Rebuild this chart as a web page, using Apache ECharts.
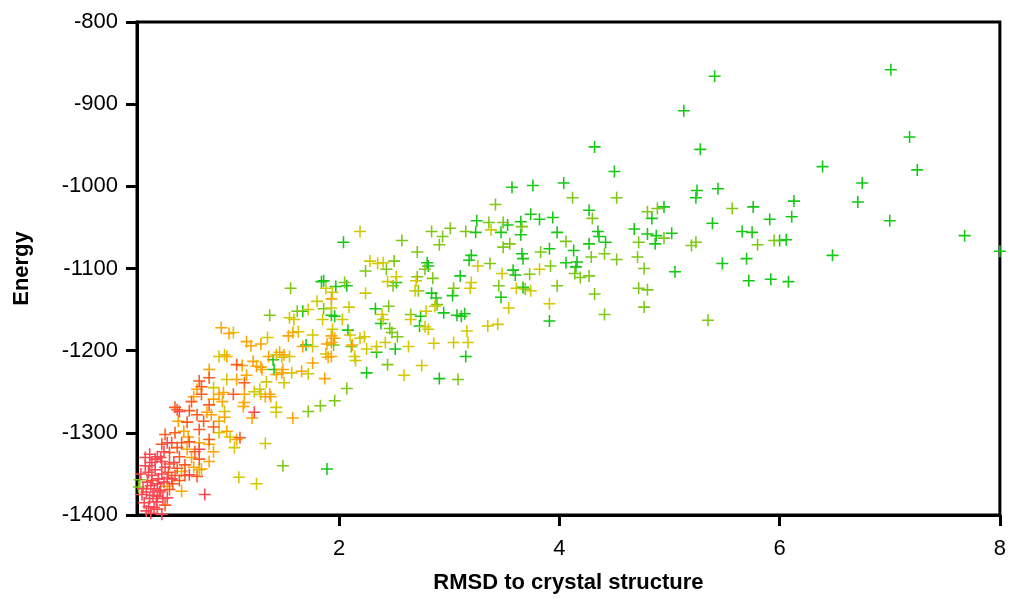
<!DOCTYPE html>
<html><head><meta charset="utf-8">
<script src="https://cdn.jsdelivr.net/npm/echarts@6/dist/echarts.min.js"></script>
<style>html,body{margin:0;padding:0;background:#fff}#c{width:1009px;height:599px}</style>
</head><body><div id="c"></div>
<script>
// [rmsd, energy] pairs grouped by marker colour class
const greenPts = [[7.01,-858],[5.41,-866],[5.13,-908],[7.18,-940],[6.39,-976],[7.25,-980],[6.75,-996],[5.76,-1025],[6.13,-1018],[6.71,-1019],[5.91,-1040],[6.11,-1037],[7.00,-1042],[7.68,-1060],[8.00,-1079],[5.66,-1055],[5.75,-1056],[6.00,-1066],[6.06,-1065],[5.70,-1088],[6.48,-1084],[5.72,-1115],[5.92,-1113],[6.08,-1116],
[4.32,-952],[5.28,-955],[4.50,-982],[3.76,-999],[4.04,-996],[5.25,-1005],[5.24,-1014],[5.44,-1003],[4.27,-1029],[3.74,-1034],[3.82,-1040],[3.94,-1038],[3.65,-1043],[3.65,-1059],[4.95,-1025],[4.84,-1039],[5.39,-1045],[3.98,-1056],[4.35,-1055],[4.36,-1061],[4.42,-1068],[4.68,-1052],[4.80,-1058],[4.88,-1060],[5.02,-1057],[4.87,-1070],[4.27,-1070],[4.13,-1078],[3.91,-1076],[3.66,-1082],[3.67,-1088],[4.06,-1093],[4.16,-1092],[4.15,-1098],[5.05,-1104],[5.48,-1094],[3.91,-1164],
[3.57,-1001],
[2.04,-1068],[3.24,-1056],[3.25,-1042],[3.47,-1056],[3.53,-1047],[3.20,-1084],[3.18,-1090],[2.80,-1093],[2.81,-1097],[2.52,-1117],[3.10,-1109],[3.03,-1133],[2.84,-1130],[2.88,-1136],[2.95,-1154],[3.07,-1157],[3.11,-1158],[3.14,-1155],[3.58,-1102],[3.60,-1108],[3.67,-1123],[3.47,-1135],[3.15,-1207],[2.91,-1234],[2.74,-1158],[2.73,-1170],[2.51,-1198],[2.34,-1202],[2.38,-1167],[2.33,-1149],[2.25,-1227],[2.08,-1175],[1.97,-1122],[2.07,-1121],[1.86,-1115],[1.84,-1116],[1.67,-1152],[1.93,-1157],[1.96,-1158],[1.70,-1193],
[1.89,-1344],[1.41,-1223],[1.40,-1211]];

const yellowGreenPts = [[5.80,-1071],[5.95,-1066],
[4.12,-1014],[4.52,-1014],[4.30,-1039],[3.66,-1049],[4.80,-1031],[4.89,-1027],[5.57,-1027],[4.06,-1067],[4.95,-1063],[4.72,-1068],[5.20,-1072],[5.24,-1068],[3.83,-1080],[3.92,-1097],[4.14,-1106],[4.19,-1111],[4.27,-1109],[4.29,-1086],[4.41,-1082],[4.52,-1089],[4.71,-1086],[4.77,-1100],[3.73,-1107],[3.98,-1121],[3.69,-1125],[4.32,-1131],[4.72,-1124],[4.80,-1126],[4.77,-1147],[4.41,-1156],[5.35,-1163],
[3.42,-1022],
[2.57,-1066],[2.84,-1055],[2.94,-1061],[3.01,-1051],[3.15,-1055],[3.36,-1044],[3.49,-1044],[2.71,-1080],[2.91,-1071],[3.49,-1074],[3.55,-1070],[3.37,-1094],[2.78,-1101],[2.50,-1091],[2.24,-1103],[2.43,-1101],[2.49,-1121],[2.85,-1112],[2.71,-1110],[2.72,-1127],[3.04,-1124],[2.89,-1144],[3.45,-1121],[3.08,-1235],[2.65,-1156],[2.44,-1217],[2.53,-1183],[2.48,-1178],[2.46,-1173],[2.45,-1146],[2.11,-1195],[2.05,-1117],[1.86,-1149],[1.95,-1193],[2.07,-1246],[1.96,-1261],[1.83,-1267],[1.72,-1274],
[1.49,-1340],[1.56,-1124],[1.37,-1157],[1.62,-1152],[0.19,-1357],[0.18,-1366]];

const yellowPts = [[3.82,-1101],[3.74,-1127],[3.91,-1143],
[2.19,-1055],[3.38,-1053],[3.26,-1097],[2.28,-1091],[2.35,-1094],[2.40,-1093],[2.52,-1110],[2.44,-1116],[2.70,-1115],[2.69,-1127],[3.20,-1117],[3.19,-1124],[2.87,-1146],[2.79,-1152],[3.48,-1106],[3.61,-1124],[3.54,-1148],[3.35,-1170],[3.44,-1168],[3.16,-1176],[3.17,-1190],[3.04,-1190],[2.86,-1191],[2.75,-1218],[2.59,-1230],[2.81,-1174],[2.65,-1162],[2.78,-1171],[2.63,-1195],[2.34,-1195],[2.25,-1198],[2.42,-1190],[2.40,-1162],[2.39,-1156],[2.19,-1185],[2.23,-1183],[2.10,-1181],[2.14,-1207],[2.15,-1212],[2.09,-1147],[1.88,-1124],[1.94,-1129],[1.80,-1140],[1.93,-1148],[1.72,-1150],[1.85,-1162],[2.03,-1162],[1.94,-1174],[1.76,-1181],[1.76,-1195],[1.88,-1204],[1.72,-1228],[2.24,-1130],
[1.43,-1275],[1.43,-1269],[1.33,-1313],[1.25,-1362],[1.09,-1354],[1.57,-1227],[1.50,-1239],[1.34,-1238],
[1.55,-1160],[1.59,-1162],[1.04,-1178],[1.35,-1184],[1.63,-1177],[0.91,-1207],[0.96,-1205],[1.43,-1205],[1.55,-1207],[1.48,-1208],[0.98,-1235],[0.86,-1245],[1.23,-1250],[1.28,-1247],
[1.29,-1253],[0.96,-1274],[0.91,-1300],[1.01,-1305],[1.05,-1318],[0.73,-1345]];

const orangePts = [[2.12,-1193],[1.93,-1137],[1.93,-1182],[1.96,-1185],[1.93,-1190],[1.89,-1192],[1.67,-1195],[1.93,-1207],[1.90,-1208],[1.76,-1215],[1.66,-1225],[1.87,-1234],
[1.58,-1282],[1.33,-1256],[1.38,-1256],[1.43,-1229],[1.48,-1227],[1.30,-1223],[1.21,-1282],
[0.93,-1172],[1.00,-1179],[1.16,-1189],[1.20,-1194],[1.29,-1192],[1.54,-1182],[1.58,-1178],[0.98,-1207],[1.12,-1218],[1.22,-1213],[1.25,-1219],[1.29,-1220],[1.36,-1207],[1.46,-1202],[1.50,-1205],[1.49,-1223],[1.16,-1230],[1.07,-1235],[0.82,-1223],[0.71,-1247],[0.68,-1256],[0.91,-1253],[0.95,-1251],[1.14,-1253],[1.37,-1253],
[0.86,-1259],[1.13,-1268],[0.80,-1275],[0.84,-1278],[0.96,-1281],[0.91,-1286],[0.54,-1286],[0.98,-1298],[0.59,-1298],[0.63,-1305],[1.07,-1308],[0.73,-1312],[0.82,-1314],[0.86,-1323],[0.62,-1320],[0.66,-1330],[0.82,-1335],[0.68,-1342],[0.75,-1344],[0.57,-1347],[0.57,-1371],[0.44,-1365],
[0.94,-1262],[1.14,-1263]];

const redOrangePts = [[1.07,-1217],[1.14,-1239],[0.82,-1233],[0.73,-1237],[0.75,-1244],[0.75,-1253],[1.04,-1253],
[0.66,-1262],[0.51,-1269],[0.64,-1273],[0.71,-1278],[0.77,-1286],[0.62,-1287],[0.73,-1296],[0.86,-1293],[0.51,-1300],[0.42,-1302],[1.10,-1306],[0.82,-1308],[0.39,-1314],[0.48,-1312],[0.57,-1312],[0.64,-1311],[0.69,-1323],[0.53,-1318],[0.46,-1324],[0.55,-1329],[0.73,-1332],[0.60,-1339],[0.71,-1353],[0.46,-1369],
[0.53,-1272],[0.82,-1266],
[0.45,-1348],[0.51,-1352],[0.30,-1358],[0.46,-1338],[0.53,-1343],[0.49,-1362],[0.55,-1358],[0.60,-1352],[0.42,-1388]];

const redPts = [[1.23,-1275],[0.55,-1274],[0.44,-1312],[0.73,-1320],[0.41,-1323],[0.28,-1326],[0.35,-1329],[0.30,-1336],[0.39,-1335],[0.50,-1336],[0.64,-1351],[0.25,-1395],[0.39,-1399],[0.32,-1391],[0.21,-1375],[0.35,-1377],[0.44,-1379],[0.78,-1375],
[0.24,-1340],[0.27,-1348],[0.30,-1352],[0.33,-1345],[0.36,-1356],[0.39,-1350],[0.42,-1342],[0.48,-1356],[0.26,-1360],[0.29,-1364],[0.32,-1368],[0.35,-1362],[0.38,-1370],[0.41,-1360],[0.44,-1355],[0.22,-1368],[0.25,-1372],[0.28,-1380],[0.31,-1376],[0.34,-1384],[0.37,-1372],[0.40,-1380],[0.23,-1385],[0.27,-1390],[0.38,-1330],[0.33,-1332],[0.29,-1398],[0.35,-1393],[0.20,-1350],[0.24,-1330],[0.28,-1340]];

const xTickValues = [2, 4, 6, 8];
const xTitle = 'RMSD to crystal structure';
const yTitle = 'Energy';

const groups = [
  {data: greenPts, color: '#14c814'},
  {data: yellowGreenPts, color: '#7cc814'},
  {data: yellowPts, color: '#d2c800'},
  {data: orangePts, color: '#ffa500'},
  {data: redOrangePts, color: '#ff5a1e'},
  {data: redPts, color: '#ff4650'}
];

const plus = 'path://M4.35,0H5.65V4.35H10V5.65H5.65V10H4.35V5.65H0V4.35H4.35Z';
const font = '"Liberation Sans", Arial, sans-serif';

const chart = echarts.init(document.getElementById('c'), null, {renderer: 'canvas'});
chart.setOption({
  animation: false,
  backgroundColor: '#fff',
  grid: {left: 137, right: 3, top: 22, bottom: 82, show: true, borderColor: '#000', borderWidth: 3, backgroundColor: 'transparent'},
  xAxis: {
    type: 'value', min: 0.165, max: 8,
    name: xTitle, nameLocation: 'middle', nameGap: 57,
    nameTextStyle: {fontFamily: font, fontWeight: 'bold', fontSize: 22, color: '#000'},
    axisLine: {show: true, onZero: false, lineStyle: {color: '#000', width: 3}},
    axisTick: {show: true, length: 11, lineStyle: {color: '#000', width: 3}, customValues: xTickValues},
    axisLabel: {fontFamily: font, fontSize: 22, color: '#000', margin: 23, customValues: xTickValues,
      formatter: v => String(v)},
    splitLine: {show: false}
  },
  yAxis: {
    type: 'value', min: -1400, max: -800, interval: 100,
    name: yTitle, nameLocation: 'middle', nameGap: 104,
    nameTextStyle: {fontFamily: font, fontWeight: 'bold', fontSize: 22, color: '#000'},
    axisLine: {show: true, onZero: false, lineStyle: {color: '#000', width: 3}},
    axisTick: {show: true, length: 11, lineStyle: {color: '#000', width: 3}},
    axisLabel: {fontFamily: font, fontSize: 22, color: '#000', margin: 19, formatter: v => String(v)},
    splitLine: {show: false}
  },
  series: groups.map(g => ({
    type: 'scatter', data: g.data, symbol: plus, symbolSize: 12, clip: false,
    itemStyle: {color: g.color, opacity: 1}, z: 3
  }))
});
</script></body></html>
